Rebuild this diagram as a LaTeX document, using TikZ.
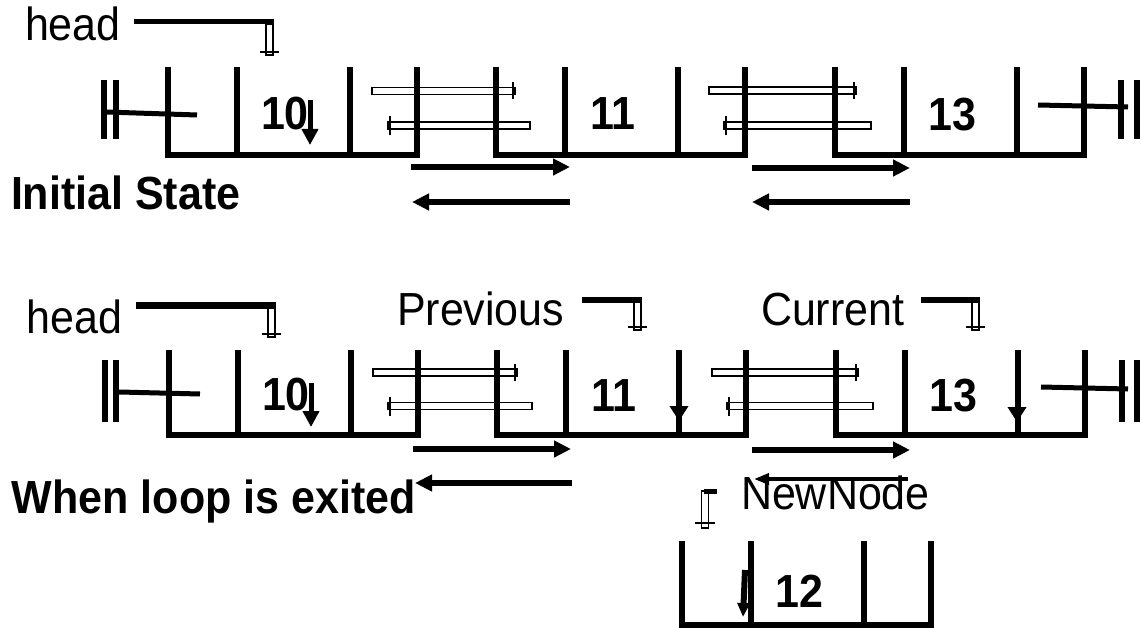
\documentclass[tikz,border=0pt]{standalone}
\usepackage{fontspec}
\usepackage{graphicx}
\setmainfont{Liberation Sans}
\usetikzlibrary{arrows.meta}
\newcommand\tx[1]{\scalebox{1}[1.08]{#1}}
\newcommand\llnode[6]{% name, x, ytop, ybottom, label, label baseline
  \draw[boxline] (#2,#3) -- (#2,#4) -- (#2+249,#4) -- (#2+249,#3);
  \draw[boxline] (#2+69,#3) -- (#2+69,#4);
  \draw[boxline] (#2+182,#3) -- (#2+182,#4);
  \node[digit] (#1) at (#2+117,#6) {\tx{#5}};}
\newcommand\hollowR[3]{% x1, x2, y : tick at right end
  \draw[hollow] (#1,#3-3.5) rectangle (#2,#3+3.5);
  \draw[tick] (#2-2,#3-8.5) -- (#2-2,#3+8.5);}
\newcommand\hollowL[3]{% x1, x2, y : tick at left end
  \draw[hollow] (#1,#3-3.5) rectangle (#2,#3+3.5);
  \draw[tick] (#1+2,#3-9.5) -- (#1+2,#3+9.5);}
\newcommand\hptr[5]{% xstart, xptr, yline, ybottom, line width
  \draw[line width=#5] (#1,#3) -- (#2+4,#3);
  \draw[hollow] (#2-3.5,#3+2) rectangle (#2+3.5,#4);
  \draw[tick] (#2-9.5,#4-3) -- (#2+9.5,#4-3);}
\begin{document}
\begin{tikzpicture}[x=1pt,y=-1pt,
  boxline/.style={line width=5.5pt, line join=miter},
  lbl/.style={font=\fontsize{43}{50}\selectfont, inner sep=0pt, outer sep=0pt, anchor=base west},
  blbl/.style={lbl, font=\fontsize{43}{50}\selectfont\bfseries},
  digit/.style={inner sep=0pt, outer sep=0pt, anchor=base, font=\fontsize{43}{50}\selectfont\bfseries},
  sarrow/.style={line width=5.5pt, -{Triangle[length=17pt,width=16pt]}},
  thinarrow/.style={line width=3.5pt, -{Triangle[length=15pt,width=11pt]}},
  downarrow/.style={line width=5pt, -{Triangle[length=16pt,width=16pt]}},
  hollow/.style={line width=1.8pt},
  tick/.style={line width=2.5pt},
  term/.style={line width=6pt},
  termline/.style={line width=5pt},
]
\useasboundingbox (0,0) rectangle (1140,628);

% ---------------- Initial state ----------------
\node[lbl] (head1) at (25,41) {\tx{head}};
\node[blbl] (initial) at (11,210) {\tx{Initial State}};
\hptr{134}{269.5}{22}{55}{5pt}

\draw[termline] (106,112) -- (197,115);
\draw[term] (104,80) -- (104,139);
\draw[term] (116,80) -- (116,139);

\llnode{n10a}{168}{67}{155}{10}{130}
\llnode{n11a}{496}{67}{155}{11}{130}
\llnode{n13a}{835}{67}{155}{13}{131}

\draw[downarrow] (310,100) -- (310,145);

\hollowR{372}{515}{91}
\hollowL{388}{530}{125.5}
\hollowR{709}{856}{90.5}
\hollowL{724}{871}{125.5}

\draw[sarrow] (411,167) -- (570,167);
\draw[sarrow] (570,202) -- (412,202);
\draw[sarrow] (752,168) -- (910,168);
\draw[sarrow] (910,202) -- (752,202);

\draw[termline] (1038,105) -- (1128,107);
\draw[term] (1121,80) -- (1121,139);
\draw[term] (1136.5,80) -- (1136.5,139);

% ---------------- When loop is exited ----------------
\node[lbl] (head2) at (27,333) {\tx{head}};
\node[lbl] (prev) at (397,325) {\tx{Previous}};
\node[lbl] (curr) at (761,325) {\tx{Current}};
\node[blbl] (when) at (12,513) {\tx{When loop is exited}};
\node[lbl] (newnode) at (741,509) {\tx{NewNode}};

\hptr{136}{271.5}{305}{337}{7pt}
\hptr{582}{637.5}{300}{330}{6pt}
\hptr{921}{975.5}{300}{330}{6pt}

\draw[termline] (119,392) -- (200,394);
\draw[term] (104.5,360) -- (104.5,422);
\draw[term] (116,360) -- (116,422);

\llnode{n10b}{169}{350}{435}{10}{410}
\llnode{n11b}{497}{350}{435}{11}{411}
\llnode{n13b}{836}{350}{435}{13}{411}

\draw[downarrow] (311,383) -- (311,427);
\draw[line width=5pt, -{Triangle[length=15pt,width=18pt]}] (679,378) -- (679,421);
\draw[line width=5pt, -{Triangle[length=15pt,width=18pt]}] (1017,378) -- (1017,422);

\hollowR{373}{517}{372.5}
\hollowL{388}{532}{406}
\hollowR{712}{858}{372.5}
\hollowL{727}{873}{406}

\draw[sarrow] (413,449) -- (571,449);
\draw[sarrow] (572,483) -- (415,483);
\draw[sarrow] (752,450) -- (910,450);
\draw[thinarrow] (908,479) -- (754,479);

\draw[termline] (1041,387) -- (1128,389);
\draw[term] (1122,360) -- (1122,422);
\draw[term] (1137,360) -- (1137,422);

% new node
\draw[termline] (704,491) -- (717,491);
\draw[hollow] (701.5,491) rectangle (708.5,528);
\draw[tick] (695,523) -- (715,523);

\llnode{n12}{682}{541}{625}{12}{607}
\draw[line width=6pt, -{Triangle[length=14pt,width=12pt]}] (745,570) -- (743,617);

\end{tikzpicture}
\end{document}
